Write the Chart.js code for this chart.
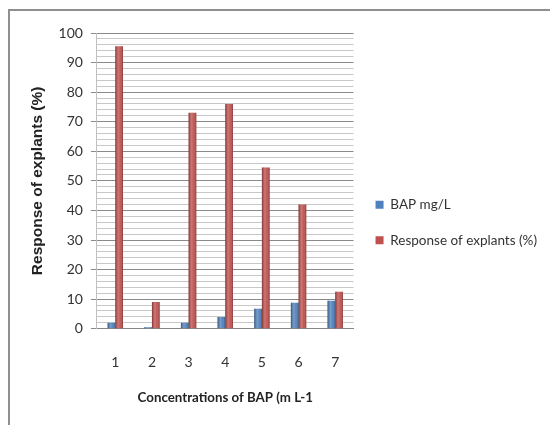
<!DOCTYPE html>
<html>
<head>
<meta charset="utf-8">
<script src="https://cdn.jsdelivr.net/npm/chart.js@4.4.0/dist/chart.umd.min.js"></script>
<style>
  html, body { margin: 0; padding: 0; background: #fff; }
  #wrap { position: relative; width: 550px; height: 425px; }
</style>
</head>
<body>
<div id="wrap"><canvas id="chart"></canvas></div>
<script>
// data
const categories = ['1', '2', '3', '4', '5', '6', '7'];
const bapValues = [2, 0.5, 2, 4, 6.8, 8.8, 9.5];
const responseValues = [95.5, 9, 73, 76, 54.5, 42, 12.5];
const seriesNames = ['BAP mg/L', 'Response of explants (%)'];

// grey border round the (cropped) chart box
const frame = {
  id: 'frame',
  beforeDraw(chart) {
    const c = chart.ctx;
    c.save();
    c.strokeStyle = '#8f8f8f';
    c.lineWidth = 2;
    c.beginPath();
    c.moveTo(9, chart.height);
    c.lineTo(9, 10);
    c.lineTo(chart.width, 10);
    c.stroke();
    c.restore();
  }
};

// cylinder-like shading over each bar
const cylinderShade = {
  id: 'cylinderShade',
  afterDatasetsDraw(chart) {
    const c = chart.ctx;
    chart.data.datasets.forEach((ds, i) => {
      chart.getDatasetMeta(i).data.forEach(bar => {
        const { x, y, base, width } = bar.getProps(['x', 'y', 'base', 'width'], true);
        const left = x - width / 2;
        const g = c.createLinearGradient(left, 0, left + width, 0);
        g.addColorStop(0, 'rgba(0,0,0,0.35)');
        g.addColorStop(0.4, 'rgba(255,255,255,0.22)');
        g.addColorStop(0.65, 'rgba(255,255,255,0.05)');
        g.addColorStop(1, 'rgba(0,0,0,0.35)');
        c.save();
        c.fillStyle = g;
        c.fillRect(left, y, width, base - y);
        c.restore();
      });
    });
  }
};

const ctx = document.getElementById('chart').getContext('2d');
new Chart(ctx, {
  type: 'bar',
  data: {
    labels: categories,
    datasets: [
      { label: seriesNames[0], data: bapValues, backgroundColor: '#4f81bd', borderWidth: 0 },
      { label: seriesNames[1], data: responseValues, backgroundColor: '#c0504d', borderWidth: 0 }
    ]
  },
  options: {
    responsive: true,
    maintainAspectRatio: false,
    animation: false,
    categoryPercentage: 0.42,
    barPercentage: 1.0,
    layout: { padding: { top: 33, left: 12, right: 3, bottom: 13 } },
    plugins: {
      legend: {
        position: 'right',
        align: 'center',
        maxWidth: 200,
        labels: {
          boxWidth: 8,
          boxHeight: 8,
          padding: 22,
          color: '#333',
          font: { family: 'Lato', size: 13.5 }
        }
      },
      tooltip: { enabled: false }
    },
    scales: {
      x: {
        grid: { display: false, drawTicks: false },
        border: { color: '#868686' },
        ticks: { padding: 25, color: '#333', font: { family: 'Lato', size: 14 } },
        title: {
          display: true,
          text: 'Concentrations of BAP (m L-1',
          color: '#222',
          font: { family: 'Lato', size: 13.3, weight: 'bold' },
          padding: { top: -5.5, bottom: 6 }
        }
      },
      y: {
        min: 0,
        max: 100,
        ticks: {
          stepSize: 2,
          autoSkip: false,
          padding: 8,
          color: '#333',
          font: { family: 'Lato', size: 14 },
          callback: v => (v % 10 === 0 ? v : '')
        },
        grid: {
          color: c => (c.tick.value % 10 === 0 ? '#8a8a8a' : '#c8c8c8'),
          tickColor: c => (c.tick.value % 10 === 0 ? '#8a8a8a' : 'rgba(0,0,0,0)'),
          tickLength: 6
        },
        border: { color: '#c0c0c0' },
        title: {
          display: true,
          text: 'Response of explants (%)',
          color: '#222',
          font: { family: 'Liberation Sans', size: 15.5, weight: 'bold' },
          padding: { top: 16.7, bottom: 3.3 }
        }
      }
    }
  },
  plugins: [frame, cylinderShade]
});
</script>
</body>
</html>
